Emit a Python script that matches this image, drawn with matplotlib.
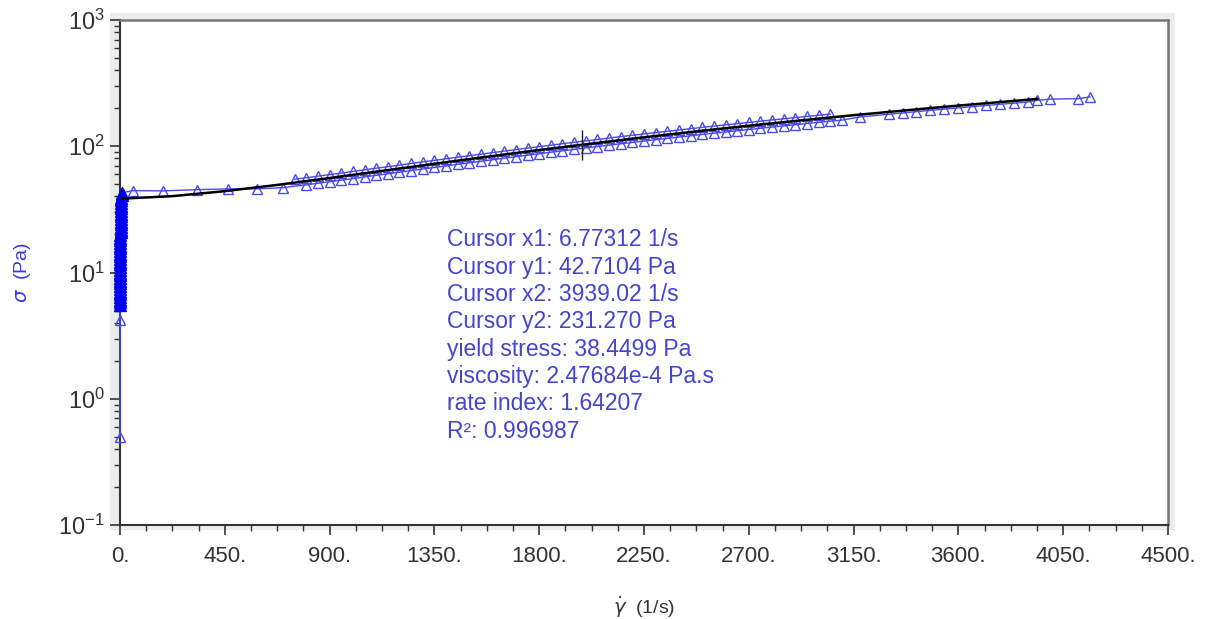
import matplotlib
matplotlib.use("Agg")
import matplotlib.pyplot as plt
from matplotlib.patches import Rectangle
from matplotlib.ticker import MultipleLocator, FixedLocator, LogLocator, FuncFormatter

plt.rcParams['font.family'] = ['Liberation Sans', 'DejaVu Sans']

# start-up points at shear rate ~0 (ramp from rest)
start_x = [0.01, 0.02, 0.04, 0.06, 0.08, 0.10, 0.12, 0.15, 0.18, 0.21, 0.25, 0.29, 0.33,
           0.38, 0.43, 0.49, 0.55, 0.62, 0.70, 0.78, 0.87, 0.97, 1.08, 1.20, 1.33, 1.47,
           1.62, 1.79, 1.97, 2.16, 2.37, 2.60, 2.85, 3.11, 3.40, 3.71, 4.04, 4.40, 4.78,
           5.19, 5.62, 6.09, 6.40, 6.60, 6.77]
start_y = [0.5, 4.2, 5.5, 5.8, 6.1, 6.4, 6.7, 7.0, 7.4, 7.8, 8.2, 8.6, 9.0,
           9.5, 10.0, 10.5, 11.0, 11.6, 12.2, 12.8, 13.4, 14.1, 14.8, 15.5, 16.3, 17.1,
           18.0, 18.9, 19.8, 20.8, 21.8, 22.9, 24.0, 25.2, 26.5, 27.8, 29.2, 30.7, 32.2,
           33.8, 35.5, 37.3, 39.1, 41.0, 42.7]

# lower branch of measured points
low_x = [55, 185, 330, 465, 590, 700,
         800, 850, 900, 950, 1000, 1050, 1100, 1150, 1200, 1250, 1300, 1350, 1400,
         1450, 1500, 1550, 1600, 1650, 1700, 1750, 1800, 1850, 1900, 1950, 2000,
         2050, 2100, 2150, 2200, 2250, 2300, 2350, 2400, 2450, 2500, 2550, 2600,
         2650, 2700, 2750, 2800, 2850, 2900, 2950, 3000, 3050, 3100, 3177,
         3300, 3360, 3420, 3480, 3540, 3600, 3660, 3720, 3780, 3840, 3900, 3939,
         3993, 4113, 4165]
low_y = [44.5, 44.3, 45.3, 46.0, 46.0, 47.0,
         49.5, 50.9, 52.4, 53.9, 55.4, 57.1, 58.8, 60.5, 62.3, 64.1, 66.0, 67.9, 69.8,
         71.9, 74.0, 76.0, 78.2, 80.4, 82.7, 84.9, 87.2, 89.6, 92.0, 94.4, 97.0,
         99.4, 102.0, 104.6, 107.2, 110.0, 112.7, 115.4, 118.2, 121.0, 123.9, 126.8, 129.7,
         132.7, 135.7, 138.8, 141.8, 144.9, 148.1, 151.3, 154.6, 157.8, 161.1, 170.6,
         179.2, 183.5, 188.0, 192.4, 196.8, 201.3, 205.8, 210.4, 215.0, 219.6, 224.3, 231.3,
         236.0, 238.0, 246.0]

# upper branch of measured points
up_x = [750, 800, 850, 900, 950, 1000, 1050, 1100, 1150, 1200, 1250, 1300, 1350,
        1400, 1450, 1500, 1550, 1600, 1650, 1700, 1750, 1800, 1850, 1900, 1950,
        2000, 2050, 2100, 2150, 2200, 2250, 2300, 2350, 2400, 2450, 2500, 2550,
        2600, 2650, 2700, 2750, 2800, 2850, 2900, 2950, 3000, 3050]
up_y = [54.8, 56.3, 58.0, 59.6, 61.3, 63.2, 65.1, 67.0, 68.9, 70.9, 73.1, 75.2, 77.3,
        79.6, 81.9, 84.2, 86.6, 89.0, 91.6, 94.1, 96.7, 99.4, 102.0, 104.8, 107.6,
        110.4, 113.2, 116.2, 119.2, 122.2, 125.2, 128.3, 131.4, 134.6, 137.8, 141.1, 144.4,
        147.7, 151.1, 154.5, 158.0, 161.6, 165.1, 168.7, 172.3, 176.0, 179.8]

# Herschel-Bulkley fit curve
fit_x = [6.77, 225, 450, 675, 900, 1125, 1350, 1575, 1800, 2025, 2250, 2475, 2700,
         2925, 3150, 3375, 3600, 3825, 3939]
fit_y = [38.46, 40.25, 44.1, 49.4, 56.0, 63.8, 72.6, 82.5, 93.3, 104.9, 117.7, 131.1, 145.4,
         160.3, 176.2, 192.5, 209.9, 227.5, 237.1]

cursor_x, cursor_y = 1985, 102

info_lines = ["Cursor x1: 6.77312 1/s",
              "Cursor y1: 42.7104 Pa",
              "Cursor x2: 3939.02 1/s",
              "Cursor y2: 231.270 Pa",
              "yield stress: 38.4499 Pa",
              "viscosity: 2.47684e-4 Pa.s",
              "rate index: 1.64207",
              "R\u00b2: 0.996987"]

xticks = [0, 450, 900, 1350, 1800, 2250, 2700, 3150, 3600, 4050, 4500]

W, H = 1205, 619
fig = plt.figure(figsize=(W / 100, H / 100), dpi=100)
fig.patch.set_facecolor('white')

# light grey frame behind the plot area
frame = Rectangle((110 / W, 1 - 530 / H), (1175 - 110) / W, (530 - 13) / H,
                  transform=fig.transFigure, facecolor='#ececec',
                  edgecolor='none', zorder=-5)
fig.add_artist(frame)

ax = fig.add_axes([120 / W, 1 - 525 / H, 1048 / W, 505 / H])
ax.set_zorder(1)
ax.set_facecolor('white')
ax.set_yscale('log')
ax.set_xlim(0, 4500)
ax.set_ylim(0.1, 1000)

blue = '#4a4ae6'
ax.plot(start_x + low_x, start_y + low_y, color=blue, lw=1.0, marker='^', ms=7,
        mfc='none', mec=blue, mew=1.0, zorder=3, clip_on=False)
# the dense start-up points merge into a solid column
ax.plot(start_x[2:], start_y[2:], color='#0000ee', lw=0, marker='^', ms=8,
        mfc='#0000ee', mec='#0000ee', zorder=4, clip_on=False)
ax.plot(up_x, up_y, color=blue, lw=1.0, marker='^', ms=7,
        mfc='none', mec=blue, mew=1.0, zorder=3)
ax.plot(fit_x, fit_y, color='black', lw=1.8, zorder=4)
ax.plot([cursor_x], [cursor_y], marker='|', ms=22, color='#222222', mew=1.0, zorder=5)
ax.plot([cursor_x], [cursor_y], marker='_', ms=8, color='#222222', mew=1.0, zorder=5)

# ticks
ax.xaxis.set_major_locator(FixedLocator(xticks))
ax.xaxis.set_minor_locator(MultipleLocator(112.5))
ax.xaxis.set_major_formatter(FuncFormatter(lambda v, p: '%d.' % int(round(v))))
ax.yaxis.set_major_locator(LogLocator(base=10, numticks=10))
ax.yaxis.set_minor_locator(LogLocator(base=10, subs=range(2, 10), numticks=10))
ax.tick_params(axis='both', which='major', direction='out', length=7, width=1.2,
               color='#333333', labelcolor='#333333')
ax.tick_params(axis='x', which='major', labelsize=16, pad=8)
ax.tick_params(axis='y', which='major', labelsize=17, pad=4)
ax.tick_params(axis='both', which='minor', direction='out', length=4, width=1.0,
               color='#333333')

for side in ['left', 'bottom']:
    ax.spines[side].set_color('#333333')
    ax.spines[side].set_linewidth(1.5)
for side in ['top', 'right']:
    ax.spines[side].set_color('#777777')
    ax.spines[side].set_linewidth(1.8)

ax.set_xlabel(r'$\dot{\gamma}$  (1/s)', fontsize=14, color='#333333', labelpad=20)
ax.set_ylabel(r'$\sigma$  (Pa)', fontsize=14, color='#3a3ae0')
ax.yaxis.set_label_coords(-0.083, 0.5)

for i, line in enumerate(info_lines):
    fig.text(447 / W, 1 - (240 + i * 27.3) / H, line, fontsize=16.5, color='#4545cc',
             ha='left', va='center', zorder=10)

fig.savefig('out.png', dpi=100)
